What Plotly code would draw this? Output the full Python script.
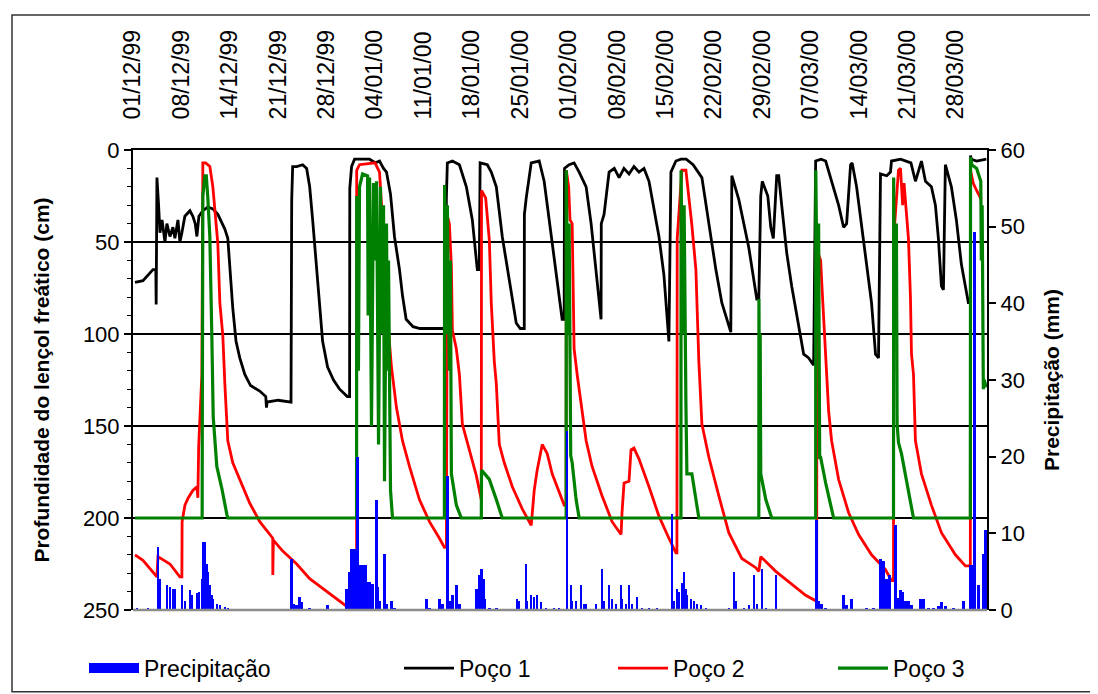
import plotly.graph_objects as go

# ---------------- data (x = days since 01/12/1999) ----------------
tick_labels = ["01/12/99", "08/12/99", "14/12/99", "21/12/99", "28/12/99", "04/01/00",
               "11/01/00", "18/01/00", "25/01/00", "01/02/00", "08/02/00", "15/02/00",
               "22/02/00", "29/02/00", "07/03/00", "14/03/00", "21/03/00", "28/03/00"]
tick_days = [7 * i for i in range(len(tick_labels))]

poco1_day = [0.29, 1.44, 2.89, 3.30, 3.35, 3.46, 3.70, 3.90, 4.2, 4.62, 4.9, 5.34, 5.77, 6.06, 6.5, 6.78,
             7.07, 7.5, 8.23, 8.66, 9.0, 9.24, 9.53, 10.10, 10.82, 11.55, 12.27, 12.85, 13.28, 13.71, 14.0,
             14.43, 14.9, 15.44, 16.17, 17.0, 18.33, 19.2, 19.3, 19.4, 21.0, 22.85, 22.95, 23.09, 23.67,
             24.54, 25.11, 25.55, 25.98, 26.4, 26.99, 27.42, 28.14, 29.0, 29.88, 31.0, 31.32, 31.35, 31.61,
             32.04, 33.0, 34.21, 35.07, 35.65, 36.23, 36.66, 37.24, 37.81, 38.54, 38.97, 39.5, 40.5, 41.5,
             45.03, 45.32, 45.46, 46.19, 47.20, 48.21, 49.07, 49.79, 50.08, 50.2, 51.24, 51.81, 52.54,
             53.40, 54.41, 55.42, 56.0, 56.58, 56.6, 56.87, 57.59, 58.74, 59.46, 60.19, 61.20, 62.06,
             62.35, 62.40, 63.07, 63.79, 64.52, 65.53, 66.25, 66.97, 67.69, 67.72, 68.12, 68.85, 69.6,
             70.3, 71.0, 71.73, 72.45, 73.18, 73.90, 74.62, 75.05, 76.06, 76.78, 77.50, 77.79, 78.51,
             79.24, 80.0, 81.0, 82.27, 83.28, 84.29, 85.15, 86.45, 86.60, 87.61, 89.05, 90.21, 90.50,
             90.78, 91.0, 91.8, 92.23, 92.6, 93.09, 93.38, 93.81, 94.54, 95.26, 96.27, 96.99, 97.71,
             98.43, 98.72, 99.5, 100.17, 101.03, 102.04, 102.76, 103.2, 103.77, 104.0, 104.64, 105.36,
             106.08, 106.80, 107.38, 107.81, 108.10, 109.0, 109.54, 109.69, 111.0, 112.5, 113.15, 114.02,
             114.60, 115.46, 116.04, 116.47, 116.91, 117.2, 117.48, 118.35, 119.07, 119.79, 120.80,
             121.09, 121.12, 121.23, 122.0, 123.4]
poco1_cm = [72, 71, 65, 65, 84, 15, 30, 45, 38, 50, 40, 47, 42, 48, 38, 50,
            45, 36, 33, 36, 40, 47, 36, 33, 31, 32, 35, 40, 43, 48, 65,
            86, 104, 113, 122, 128, 131, 134, 140, 137, 136, 137, 27, 9, 9,
            8, 10, 20, 38, 56, 83, 104, 118, 125, 130, 134, 134, 21, 9,
            5, 5, 5, 7, 6, 10, 12, 24, 47, 65, 79, 92, 96, 97,
            97, 26, 7, 6, 8, 20, 38, 65, 65, 7, 8, 12, 20,
            47, 70, 94, 97, 97, 35, 26, 7, 6, 17, 38, 65, 92,
            92, 10, 8, 7, 12, 20, 40, 65, 92, 40, 35, 12, 10,
            15, 10, 13, 9, 12, 10, 17, 26, 47, 68, 104, 12, 6,
            5, 5, 8, 15, 40, 65, 83, 99, 14, 27, 53, 81, 81,
            25, 17, 25, 42, 48, 14, 14, 30, 56, 74, 97, 111, 113,
            117, 6, 5, 6, 17, 30, 42, 40, 8, 7, 20, 42,
            62, 83, 111, 113, 13, 14, 12, 6, 5, 7, 17, 6,
            17, 20, 30, 48, 74, 76, 8, 20, 38, 62, 83,
            83, 3, 5, 6, 5]

poco2_day = [0.29, 1.44, 3.46, 3.61, 5.34, 6.78, 7.07, 7.10, 7.51, 8.0, 8.66, 9.24, 9.38, 9.50, 9.96,
             10.10, 10.5, 11.11, 11.55, 12.0, 12.27, 12.56, 12.99, 13.28, 13.5, 13.71, 14.43, 15.44,
             16.89, 18.33, 20.21, 20.22, 20.3, 21.65, 23.67, 25.55, 28.00, 30.89, 31.0, 32.33, 32.35,
             32.76, 35.0, 35.65, 35.94, 36.37, 36.66, 36.80, 37.38, 37.53, 38.10, 38.97, 39.98, 41.42,
             42.87, 44.31, 45.03, 45.32, 45.46, 45.75, 46.04, 46.19, 46.76, 47.20, 47.63, 48.64, 49.65,
             50.37, 50.40, 51.0, 51.24, 51.53, 51.81, 52.25, 52.54, 52.97, 53.69, 54.85, 56.29, 57.59,
             58.02, 58.45, 59.18, 59.90, 60.62, 61.63, 62.35, 62.64, 62.66, 63.0, 63.2, 63.51, 63.79,
             64.23, 64.80, 65.53, 66.39, 67.84, 69.28, 70.58, 70.72, 71.01, 71.73, 72.02, 72.45, 73.18,
             74.62, 76.06, 77.50, 78.51, 78.66, 78.70, 79.38, 79.96, 80.39, 80.8, 81.40, 81.83, 82.27,
             83.28, 84.72, 86.16, 88.04, 90.06, 90.50, 90.78, 92.95, 95.26, 97.28, 98.72, 98.87, 98.90,
             99.44, 99.73, 100.02, 100.31, 100.6, 101.03, 102.04, 103.48, 104.93, 106.80, 108.82,
             109.69, 109.98, 110.0, 110.7, 110.99, 111.3, 111.5, 112.14, 112.43, 112.58, 112.87, 113.15,
             114.02, 115.46, 116.91, 118.93, 120.37, 121.09, 121.12, 121.5, 122.0, 122.68]
poco2_cm = [220, 223, 232, 221, 225, 232, 232, 202, 193, 189, 185, 183, 189, 161, 122,
            7, 7, 9, 20, 38, 51, 83, 101, 127, 140, 158, 170, 179,
            192, 202, 211, 231, 212, 218, 225, 233, 240, 248, 250, 250, 11,
            8, 7, 12, 30, 48, 65, 92, 118, 122, 140, 158, 172, 190,
            202, 211, 216, 216, 36, 40, 63, 98, 108, 122, 149, 163, 177,
            190, 22, 26, 38, 49, 83, 115, 127, 160, 170, 183, 195, 204,
            185, 174, 160, 165, 176, 186, 193, 193, 11, 20, 38, 40, 108,
            122, 137, 158, 172, 188, 202, 209, 197, 181, 180, 163, 162, 168,
            183, 199, 211, 219, 219, 48, 11, 11, 26, 40, 65, 115, 149,
            167, 188, 208, 222, 227, 229, 221, 229, 236, 242, 245, 245, 54,
            60, 81, 102, 124, 142, 158, 179, 197, 209, 220, 228,
            234, 234, 48, 11, 10, 30, 18, 48, 80, 111, 122, 158,
            176, 193, 208, 220, 226, 226, 11, 18, 22, 27]

poco3_day = [0.29, 10.0, 10.02, 10.10, 10.39, 10.6, 10.82, 11.11, 11.40, 11.55, 11.6, 12.12, 12.85,
             13.57, 13.71, 32.33, 32.35, 32.6, 32.76, 33.2, 33.92, 34.0, 34.21, 34.49, 34.78, 35.07,
             35.22, 35.51, 35.79, 35.94, 36.23, 36.37, 36.66, 36.80, 36.95, 37.24, 37.53, 45.03, 45.06,
             45.3, 45.46, 45.75, 45.9, 46.04, 46.76, 47.48, 50.37, 50.40, 51.53, 52.54, 53.40, 62.64,
             62.66, 62.9, 63.07, 63.3, 63.51, 64.08, 64.52, 79.24, 79.26, 79.5, 79.7, 79.96, 80.10,
             80.82, 81.40, 81.83, 90.50, 90.52, 90.6, 90.7, 90.78, 91.51, 92.37, 98.72, 98.74, 99.0,
             99.15, 99.3, 99.44, 100.17, 100.89, 101.32, 109.98, 110.0, 110.2, 110.4, 110.5, 110.70,
             111.13, 111.71, 112.43, 112.87, 121.09, 121.12, 121.3, 122.0, 122.6, 122.68, 122.8,
             122.97, 123.1, 123.4]
poco3_cm = [200, 200, 154, 25, 14, 14, 26, 47, 101, 122, 145, 172, 184,
            198, 200, 200, 25, 120, 20, 13, 14, 90, 15, 150, 18, 60,
            17, 160, 20, 100, 30, 180, 40, 120, 60, 185, 200, 200, 19,
            100, 30, 120, 60, 176, 193, 200, 200, 174, 179, 190, 200, 200,
            11, 100, 40, 166, 170, 190, 200, 200, 11, 100, 30, 138, 176,
            176, 190, 200, 200, 81, 140, 100, 176, 190, 200, 200, 11, 100,
            40, 167, 167, 181, 193, 200, 200, 15, 100, 40, 149, 159,
            165, 176, 190, 200, 200, 4, 8, 10, 17, 60, 30,
            130, 125, 129]

precip_day = [0.58, 2.16, 3.61, 3.90, 4.91, 5.34, 5.77, 6.06, 7.07, 7.51, 8.23, 8.52, 9.24, 9.53, 9.96,
              10.10, 10.39, 10.68, 10.82, 11.11, 11.40, 11.55, 12.12, 12.56, 13.28, 13.71, 22.95, 23.24,
              23.67, 24.10, 24.39, 25.55, 28.14, 30.89, 31.32, 31.61, 32.04, 32.48, 32.76, 33.20, 33.63,
              33.92, 34.21, 34.64, 35.22, 35.36, 35.65, 36.37, 36.66, 37.38, 37.81, 42.43, 42.87, 44.31,
              44.74, 45.46, 45.75, 46.19, 46.76, 47.20, 49.65, 50.08, 50.37, 50.66, 50.81, 51.53, 52.54,
              55.57, 55.86, 56.87, 57.01, 57.59, 58.02, 58.45, 59.03, 59.75, 60.91, 61.63, 62.78, 63.36,
              63.51, 64.08, 64.80, 65.24, 65.53, 66.97, 67.84, 68.12, 68.85, 69.28, 69.86, 70.58, 70.72,
              71.30, 71.73, 72.17, 72.89, 73.61, 74.62, 75.77, 77.94, 78.22, 78.66, 78.95, 79.38, 79.67,
              79.96, 80.10, 80.68, 81.11, 81.54, 82.13, 82.85, 86.16, 86.89, 87.18, 88.33, 89.05, 89.77,
              90.21, 90.93, 91.51, 92.95, 98.87, 99.15, 99.59, 100.17, 102.76, 103.19, 103.92, 106.08,
              107.09, 108.10, 108.53, 108.97, 109.40, 110.27, 110.56, 110.99, 111.28, 111.71, 112.14,
              112.58, 113.88, 114.31, 115.03, 115.75, 116.47, 116.91, 117.48, 118.64, 120.08, 121.09,
              121.38, 121.67, 122.24, 122.97, 123.26]
precip_mm = [0.3, 0.3, 8.2, 4.1, 3.3, 3.0, 2.7, 2.7, 3.3, 1.2, 2.6, 2.0, 2.2, 2.4, 4.0,
             8.9, 8.9, 6.0, 5.0, 3.3, 2.0, 1.5, 0.8, 0.6, 0.4, 0.3, 6.6, 0.8,
             0.6, 1.7, 1.0, 0.3, 0.6, 2.7, 5.0, 8.0, 8.0, 20.0, 5.9, 5.9, 5.9,
             3.6, 3.6, 3.4, 14.3, 3.0, 1.2, 7.3, 0.8, 1.2, 0.3, 1.5, 0.3, 1.5,
             0.8, 17.5, 1.2, 2.0, 3.3, 0.8, 2.8, 4.6, 5.4, 4.0, 1.5, 0.3, 0.3,
             1.5, 1.2, 6.0, 1.2, 2.0, 1.7, 2.0, 1.0, 0.3, 0.3, 0.3, 23.4, 3.3,
             1.2, 1.2, 3.3, 0.8, 0.8, 0.8, 5.4, 1.2, 3.3, 1.5, 0.8, 3.3, 1.5,
             0.8, 3.3, 0.8, 1.7, 0.3, 0.3, 0.3, 12.5, 1.2, 2.8, 2.4, 3.5, 5.0,
             2.8, 2.0, 1.5, 1.2, 0.8, 0.6, 0.3, 0.3, 5.0, 1.2, 0.3, 0.6, 4.6,
             0.8, 5.4, 0.3, 4.6, 11.8, 1.2, 0.8, 0.3, 1.9, 0.6, 1.4, 0.3,
             0.3, 6.6, 6.4, 4.1, 4.6, 11.1, 1.6, 2.6, 2.3, 1.2, 1.2,
             0.6, 1.4, 1.5, 0.3, 0.3, 0.5, 1.1, 0.5, 0.3, 1.2, 5.9,
             5.9, 49.3, 3.3, 7.3, 10.5]

# ---------------- figure ----------------
FONT = "Arial, Liberation Sans, sans-serif"
fig = go.Figure()

fig.add_trace(go.Scatter(x=poco1_day, y=poco1_cm, mode="lines", name="Poço 1",
                         line=dict(color="#000000", width=2.8), legend="legend2"))
fig.add_trace(go.Scatter(x=poco2_day, y=poco2_cm, mode="lines", name="Poço 2",
                         line=dict(color="#ff0000", width=2.8), legend="legend3"))
fig.add_trace(go.Scatter(x=poco3_day, y=poco3_cm, mode="lines", name="Poço 3",
                         line=dict(color="#008000", width=3.2), legend="legend4"))
fig.add_trace(go.Bar(x=precip_day, y=precip_mm, name="Precipitação", yaxis="y2",
                     marker=dict(color="#0000ff", line=dict(width=0)), width=0.35,
                     showlegend=False))
# legend proxy for the bar series (wide blue box)
fig.add_trace(go.Scatter(x=[None], y=[None], mode="lines", name="Precipitação",
                         line=dict(color="#0000ff", width=14), legend="legend"))

leg_common = dict(orientation="h", yanchor="middle", xanchor="left",
                  font=dict(family=FONT, size=23, color="#000"),
                  bgcolor="rgba(0,0,0,0)", itemwidth=50)
ly = (609 - 668) / 467
fig.update_layout(
    width=1098, height=694,
    margin=dict(l=125, r=119, t=142, b=85),
    paper_bgcolor="white", plot_bgcolor="white",
    font=dict(family=FONT, size=22, color="#000"),
    bargap=0,
    xaxis=dict(range=[0, 123.5], side="top", tickmode="array", tickvals=tick_days,
               ticktext=tick_labels, tickangle=-90, ticks="", showgrid=False,
               showline=True, linecolor="#000", linewidth=2, zeroline=False,
               ticklabelstandoff=24, tickfont=dict(size=23)),
    yaxis=dict(range=[250, 0], tickvals=[0, 50, 100, 150, 200, 250], ticks="outside",
               ticklen=7, tickwidth=1.5, tickcolor="#000",
               minor=dict(tickvals=list(range(0, 251, 10)), ticks="outside", ticklen=4,
                          tickwidth=1.2, tickcolor="#000", showgrid=False),
               showline=True, linecolor="#000", linewidth=2, zeroline=False,
               showgrid=True, gridcolor="#000", gridwidth=1.5,
               title=dict(text="<b>Profundidade do lençol freático (cm)</b>",
                          font=dict(size=21), standoff=28),
               tickfont=dict(size=22)),
    yaxis2=dict(range=[0, 60], overlaying="y", side="right", tickvals=list(range(0, 61, 10)),
                ticks="outside", ticklen=7, tickwidth=1.5, tickcolor="#000",
                showline=True, linecolor="#000", linewidth=2, zeroline=False, showgrid=False,
                title=dict(text="<b>Precipitação (mm)</b>", font=dict(size=21), standoff=20),
                tickfont=dict(size=22)),
    legend=dict(x=(76 - 125) / 854, y=ly, **leg_common),
    legend2=dict(x=(391 - 125) / 854, y=ly, **leg_common),
    legend3=dict(x=(605 - 125) / 854, y=ly, **leg_common),
    legend4=dict(x=(825 - 125) / 854, y=ly, **leg_common),
    shapes=[
        dict(type="line", xref="paper", yref="paper", x0=0, x1=1, y0=0, y1=0,
             line=dict(color="#8c8c8c", width=2.5)),
        dict(type="rect", xref="paper", yref="paper",
             x0=(4 - 125) / 854, x1=(1095 - 125) / 854,
             y0=(609 - 692) / 467, y1=(609 - 5) / 467,
             line=dict(color="#333", width=1.5)),
    ],
)

fig.write_html("out.html")
